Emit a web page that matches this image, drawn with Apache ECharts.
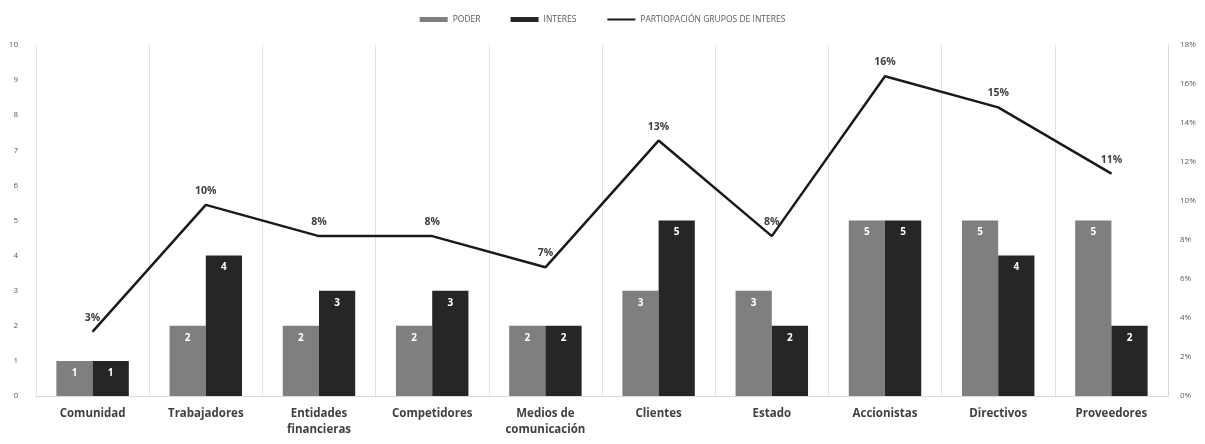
<!DOCTYPE html>
<html><head><meta charset="utf-8">
<script src="https://cdn.jsdelivr.net/npm/echarts@6/dist/echarts.min.js"></script>
<style>html,body{margin:0;padding:0;background:#fff}#c{width:1205px;height:444px}</style>
</head><body><div id="c"></div>
<script>
const categories = ['Comunidad','Trabajadores','Entidades\nfinancieras','Competidores','Medios de\ncomunicación','Clientes','Estado','Accionistas','Directivos','Proveedores'];
const poder = [1,2,2,2,2,3,3,5,5,5];
const interes = [1,4,3,3,2,5,2,5,4,2];
const participacion = [3.3,9.8,8.2,8.2,6.6,13.1,8.2,16.4,14.8,11.4];
const leftTicks = [0,10,1];
const rightTicks = [0,18,2];

const chart = echarts.init(document.getElementById('c'));
const font = "'Open Sans', sans-serif";
chart.setOption({
  animation:false,
  textStyle:{fontFamily:font},
  legend:{
    top:10, left:'center', itemWidth:28, itemHeight:5, itemGap:30,
    textStyle:{fontSize:8.5, color:'#595959', fontFamily:font},
    data:[{name:'PODER',icon:'rect'},{name:'INTERES',icon:'rect'},
          {name:'PARTIOPACIÓN GRUPOS DE INTERES', itemStyle:{opacity:0}}]
  },
  grid:{left:36,right:37,top:45,bottom:48},
  xAxis:{
    type:'category', data:categories,
    axisLine:{lineStyle:{color:'#d9d9d9'}}, axisTick:{show:false},
    splitLine:{show:true, lineStyle:{color:'#e3e3e3'}},
    axisLabel:{color:'#404040', fontWeight:'bold', fontSize:11.5, lineHeight:16, margin:10, interval:0, fontFamily:font}
  },
  yAxis:[
    {type:'value', min:leftTicks[0], max:leftTicks[1], interval:leftTicks[2],
     splitLine:{show:false}, axisLine:{show:false}, axisTick:{show:false},
     axisLabel:{color:'#595959', fontSize:8, margin:18}},
    {type:'value', min:rightTicks[0], max:rightTicks[1], interval:rightTicks[2],
     splitLine:{show:false}, axisLine:{show:true, lineStyle:{color:'#d9d9d9'}}, axisTick:{show:false},
     axisLabel:{color:'#595959', fontSize:8, margin:12, formatter:v=>v+'%'}}
  ],
  series:[
    {name:'PODER', type:'bar', data:poder, barGap:'0%', barCategoryGap:'36%',
     itemStyle:{color:'#7f7f7f'},
     label:{show:true, position:'insideTop', color:'#fff', fontWeight:'bold', fontSize:10, offset:[0,2]}},
    {name:'INTERES', type:'bar', data:interes,
     itemStyle:{color:'#262626'},
     label:{show:true, position:'insideTop', color:'#fff', fontWeight:'bold', fontSize:10, offset:[0,2]}},
    {name:'PARTIOPACIÓN GRUPOS DE INTERES', type:'line', yAxisIndex:1, data:participacion,
     symbol:'circle', symbolSize:1, showSymbol:true,
     lineStyle:{color:'#1a1a1a', width:2.5}, itemStyle:{color:'#1a1a1a'},
     label:{show:true, position:'top', distance:8, color:'#404040', fontWeight:'bold', fontSize:10.5,
       formatter:p=>Math.round(p.value)+'%'}}
  ]
});
</script></body></html>
